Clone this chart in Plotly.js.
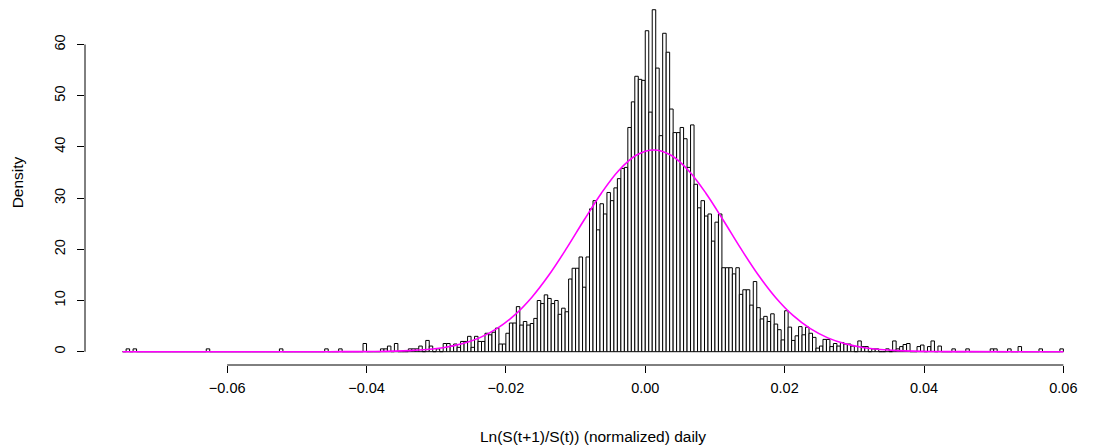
<!DOCTYPE html>
<html><head><meta charset="utf-8">
<script src="https://cdn.plot.ly/plotly-3.0.1.min.js"></script>
<style>html,body{margin:0;padding:0;background:#fff}</style>
</head><body><div id="chart" style="width:1117px;height:446px"></div>
<script>
// Histogram bins: breaks every 0.0005 starting at -0.075
const binStart = -0.075;
const binWidth = 0.0005;
// Density of each bin (bins -0.0750 ... 0.0600)
const density = [
  0, 0.55, 0, 0.55, 0, 0, 0, 0, 0, 0,
  0, 0, 0, 0, 0, 0, 0, 0, 0, 0,
  0, 0, 0, 0, 0.55, 0, 0, 0, 0, 0,
  0, 0, 0, 0, 0, 0, 0, 0, 0, 0,
  0, 0, 0, 0, 0, 0.55, 0, 0, 0, 0,
  0, 0, 0, 0, 0, 0, 0, 0, 0.55, 0,
  0, 0, 0.55, 0, 0, 0, 0, 0, 0, 1.6,
  0, 0, 0, 0, 0.55, 0.55, 1.1, 0, 1.6, 0,
  0, 0, 0.55, 0.55, 0.55, 1.1, 0, 2.2, 1.1, 0,
  0.55, 0, 1.6, 1.6, 1.1, 1.5, 0.85, 2.0, 2.0, 3.0,
  0.85, 3.0, 2.0, 2.0, 3.6, 3.3, 3.8, 4.6, 1.5, 1.5,
  3.6, 5.6, 5.6, 8.8, 5.2, 5.9, 5.2, 5.5, 6.5, 10.0,
  9.4, 11.1, 10.4, 9.4, 10.0, 7.3, 8.5, 7.8, 14.2, 16.3,
  16.3, 18.5, 12.6, 18.5, 27.9, 29.5, 23.8, 28.9, 26.9, 31.1,
  29.5, 32.0, 33.8, 35.8, 36.0, 43.8, 48.8, 53.8, 53.2, 53.0,
  62.7, 46.8, 66.8, 55.4, 42.2, 62.2, 58.5, 47.4, 42.8, 42.8,
  43.8, 41.6, 36.0, 44.3, 32.7, 28.1, 29.5, 26.5, 26.9, 21.6,
  25.3, 26.9, 16.4, 16.4, 16.4, 15.2, 16.4, 11.2, 12.1, 12.1,
  9.1, 13.7, 8.6, 6.4, 6.9, 5.9, 7.4, 5.4, 4.3, 2.3,
  8.0, 4.8, 2.2, 3.1, 4.9, 3.3, 4.8, 3.6, 2.8, 0.7,
  1.1, 2.4, 2.4, 1.0, 1.6, 1.1, 1.8, 1.5, 1.5, 1.1,
  0, 2.1, 1.0, 1.0, 0, 0.55, 0.55, 0, 0, 0.55,
  0, 2.1, 0.55, 1.0, 1.4, 1.6, 0, 0, 1.0, 1.3,
  0, 1.0, 2.1, 0, 1.1, 0, 0, 0, 0.55, 0,
  0, 0, 0.55, 0, 0, 0, 0, 0, 0, 0.55,
  0.55, 0, 0, 0, 0.55, 0, 0, 1.0, 0, 0,
  0, 0, 0, 0.55, 0, 0, 0, 0, 0, 0.55
];
// Fitted normal density curve
const curveX = [-0.075, -0.0488, -0.0438, -0.0388, -0.0338, -0.0313, -0.0288, -0.0263, -0.0238, -0.0213,
  -0.0188, -0.0163, -0.0138, -0.0113, -0.0088, -0.0063, -0.0038, -0.0013, 0.0012, 0.0037,
  0.0062, 0.0087, 0.0112, 0.0137, 0.0162, 0.0187, 0.0212, 0.0237, 0.0262, 0.0287,
  0.0312, 0.0337, 0.0362, 0.0412, 0.0462, 0.06];
const curveY = [0, 0.001, 0.006, 0.04, 0.21, 0.43, 0.83, 1.54, 2.70, 4.50,
  7.09, 10.60, 15.02, 20.17, 25.67, 30.96, 35.39, 38.36, 39.4, 38.36,
  35.39, 30.96, 25.67, 20.17, 15.02, 10.60, 7.09, 4.50, 2.70, 1.54,
  0.83, 0.43, 0.21, 0.04, 0.006, 0];
const xTickVals = [-0.06, -0.04, -0.02, 0, 0.02, 0.04, 0.06];
const yTickVals = [0, 10, 20, 30, 40, 50, 60];
const xTitle = "Ln(S(t+1)/S(t)) (normalized) daily";
const yTitle = "Density";

const binMids = density.map((d, i) => +(binStart + (i + 0.5) * binWidth).toFixed(5));
const FONT = "Liberation Sans, Arial, Helvetica, sans-serif";

const traces = [
  {
    type: "bar", x: binMids, y: density, width: binWidth,
    marker: { color: "white", line: { color: "black", width: 1 } },
    hoverinfo: "skip"
  },
  {
    type: "scatter", mode: "lines", x: curveX, y: curveY,
    line: { color: "#FF00FF", width: 1.6, shape: "spline" },
    hoverinfo: "skip"
  }
];

const layout = {
  width: 1117, height: 446,
  margin: { l: 85, r: 16, t: 0, b: 81 },
  paper_bgcolor: "white", plot_bgcolor: "white",
  showlegend: false, bargap: 0,
  font: { family: FONT, size: 14.5, color: "black" },
  xaxis: {
    range: [-0.0804, 0.0654], tickvals: xTickVals, tickformat: ".2f",
    ticks: "outside", ticklen: 7, tickwidth: 1, tickcolor: "black",
    showgrid: false, zeroline: false, showline: false,
    tickfont: { family: FONT, size: 14.5, color: "black" },
    ticklabelstandoff: 3,
    title: { text: xTitle, font: { family: FONT, size: 15.5, color: "black" }, standoff: 35 }
  },
  yaxis: {
    range: [-2.6, 68.7], tickvals: yTickVals, tickangle: -90,
    ticks: "outside", ticklen: 7, tickwidth: 1, tickcolor: "black",
    showgrid: false, zeroline: false, showline: false,
    tickfont: { family: FONT, size: 14.5, color: "black" },
    ticklabelstandoff: 6,
    title: { text: yTitle, font: { family: FONT, size: 15.5, color: "black" }, standoff: 24 }
  },
  shapes: [
    { type: "line", xref: "x", yref: "paper", x0: xTickVals[0], x1: xTickVals[xTickVals.length - 1], y0: 0, y1: 0,
      line: { color: "black", width: 1 } },
    { type: "line", xref: "paper", yref: "y", x0: 0, x1: 0, y0: yTickVals[0], y1: yTickVals[yTickVals.length - 1],
      line: { color: "black", width: 1 } }
  ]
};

Plotly.newPlot("chart", traces, layout, { staticPlot: true, displayModeBar: false });
</script>
</body></html>
